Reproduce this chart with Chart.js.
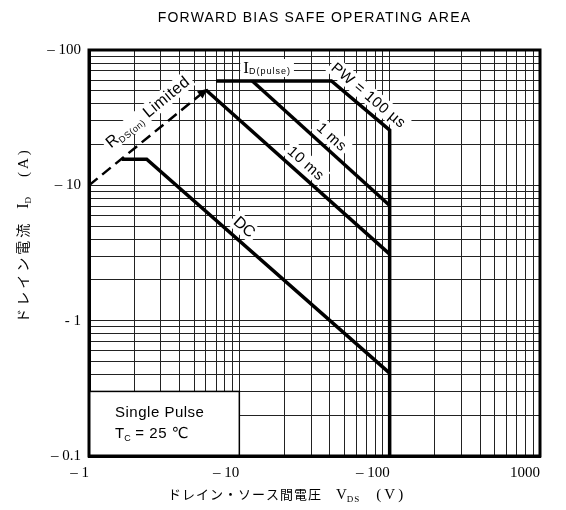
<!DOCTYPE html>
<html>
<head>
<meta charset="utf-8">
<title>Forward Bias Safe Operating Area</title>
<script src="https://cdn.jsdelivr.net/npm/chart.js@4/dist/chart.umd.min.js"></script>
<style>
  body { margin: 0; background: #fff; }
  #wrap { width: 566px; height: 510px; }
</style>
</head>
<body>
<div id="wrap"><canvas id="soa" width="566" height="510"></canvas></div>
<script>
// grid values (log 1-2-...-9)
const xGrid = [1, 2, 3, 4, 5, 6, 7, 8, 9, 10, 20, 30, 40, 50, 60, 70, 80, 90, 100, 200, 300, 400, 500, 600, 700, 800, 900, 1000];
const yGrid = [0.1, 0.2, 0.3, 0.4, 0.5, 0.6, 0.7, 0.8, 0.9, 1, 2, 3, 4, 5, 6, 7, 8, 9, 10, 20, 30, 40, 50, 60, 70, 80, 90, 100];
const xTickText = { 1: '– 1', 10: '– 10', 100: '– 100', 1000: '1000' };
const yTickText = { 0.1: '– 0.1', 1: '- 1', 10: '– 10', 100: '– 100' };

// VDS (V) / ID (A)
const rdsV = [1, 6.0];
const rdsI = [10, 50.6];
const pw100V = [7.0, 41, 100, 100];
const pw100I = [59, 59, 25.6, 0.1];
const ms1V = [12.2, 100];
const ms1I = [59, 7.1];
const ms10V = [6.0, 100];
const ms10I = [50.6, 3.1];
const dcV = [1.65, 2.42, 100];
const dcI = [15.6, 15.6, 0.41];

const SANS = '"Liberation Sans", "DejaVu Sans", sans-serif';
const SERIF = '"Liberation Serif", "DejaVu Serif", serif';
const JP = '"Noto Sans CJK JP", sans-serif';

function pts(vs, is) {
    return vs.map((v, k) => ({ x: v, y: is[k] }));
}

function line(vs, is, extra) {
    return Object.assign({
        data: pts(vs, is),
        showLine: true,
        borderColor: '#000',
        borderWidth: 3.5,
        pointRadius: 0,
        tension: 0
    }, extra);
}

function toPx(chart, v, i) {
    return { x: chart.scales.x.getPixelForValue(v), y: chart.scales.y.getPixelForValue(i) };
}

// text made of pieces (for subscripts)
function partsWidth(ctx, parts) {
    let w = 0;
    for (const p of parts) {
        if (p.gap) { w += p.gap; continue; }
        ctx.font = p.font;
        ctx.letterSpacing = p.spacing || '0px';
        w += ctx.measureText(p.t).width;
    }
    return w;
}
function drawParts(ctx, parts, x, y) {
    let cx = x;
    for (const p of parts) {
        if (p.gap) { cx += p.gap; continue; }
        ctx.font = p.font;
        ctx.letterSpacing = p.spacing || '0px';
        ctx.fillText(p.t, cx, y + (p.dy || 0));
        cx += ctx.measureText(p.t).width;
    }
}

const notes = [
    { at: [2.46, 34.8], along: [[rdsV[0], rdsI[0]], [rdsV[1], rdsI[1]]],
      parts: [{ t: 'R', font: '16px ' + SANS }, { t: 'DS(on)', font: '9px ' + SANS, dy: 3, spacing: '0.5px' }, { t: ' Limited', font: '16px ' + SANS, spacing: '0.5px' }] },
    { at: [15.3, 73.6],
      parts: [{ t: 'I', font: '17px ' + SERIF }, { t: 'D(pulse)', font: '9px ' + SANS, dy: 1, spacing: '1px' }] },
    { at: [72.6, 46.4], along: [[pw100V[1], pw100I[1]], [pw100V[2], pw100I[2]]],
      parts: [{ t: 'PW = 100 µs', font: '15px ' + SANS, spacing: '0.5px' }] },
    { at: [41.3, 22.8], along: [[ms1V[0], ms1I[0]], [ms1V[1], ms1I[1]]],
      parts: [{ t: '1 ms', font: '15px ' + SANS, spacing: '0.5px' }] },
    { at: [27.8, 14.6], along: [[ms10V[0], ms10I[0]], [ms10V[1], ms10I[1]]],
      parts: [{ t: '10 ms', font: '15px ' + SANS, spacing: '0.5px' }] },
    { at: [10.8, 4.92], along: [[dcV[1], dcI[1]], [dcV[2], dcI[2]]],
      parts: [{ t: 'DC', font: '16px ' + SANS }] }
];

function drawNote(ctx, chart, n, pass) {
    const c = toPx(chart, n.at[0], n.at[1]);
    let ang = 0;
    if (n.along) {
        const a = toPx(chart, n.along[0][0], n.along[0][1]);
        const b = toPx(chart, n.along[1][0], n.along[1][1]);
        ang = Math.atan2(b.y - a.y, b.x - a.x);
    }
    ctx.save();
    ctx.translate(c.x, c.y);
    ctx.rotate(ang);
    const w = partsWidth(ctx, n.parts);
    if (pass === 'bg') {
        ctx.fillStyle = '#fff';
        ctx.fillRect(-w / 2 - 3, -9, w + 6, 18);
    } else {
        ctx.fillStyle = '#000';
        ctx.textBaseline = 'alphabetic';
        drawParts(ctx, n.parts, -w / 2, 5);
    }
    ctx.restore();
}

const soaDecor = {
    id: 'soaDecor',
    beforeDatasetsDraw(chart) {
        const ctx = chart.ctx;
        notes.forEach(n => drawNote(ctx, chart, n, 'bg'));
        // Single Pulse box
        const a = toPx(chart, 1, 0.3);
        const b = toPx(chart, 10, 0.1);
        ctx.save();
        ctx.fillStyle = '#fff';
        ctx.fillRect(a.x, a.y, b.x - a.x, b.y - a.y);
        ctx.strokeStyle = '#000';
        ctx.lineWidth = 1.5;
        ctx.strokeRect(a.x, a.y, b.x - a.x, b.y - a.y);
        ctx.fillStyle = '#000';
        ctx.textBaseline = 'alphabetic';
        const t1 = toPx(chart, 1.49, 0.211);
        drawParts(ctx, [{ t: 'Single Pulse', font: '15px ' + SANS, spacing: '0.5px' }], t1.x, t1.y + 5);
        const t2 = toPx(chart, 1.49, 0.148);
        drawParts(ctx, [{ t: 'T', font: '15px ' + SANS }, { t: 'C', font: '9px ' + SANS, dy: 3 },
                        { t: ' = 25 ℃', font: '15px ' + SANS, spacing: '0.5px' }], t2.x, t2.y + 5);
        ctx.restore();
    },
    afterDatasetsDraw(chart) {
        const ctx = chart.ctx;
        const area = chart.chartArea;
        notes.forEach(n => drawNote(ctx, chart, n, 'fg'));

        // arrow head at the end of the RDS(on) line
        const p0 = toPx(chart, rdsV[0], rdsI[0]);
        const p1 = toPx(chart, rdsV[1], rdsI[1]);
        const ang = Math.atan2(p1.y - p0.y, p1.x - p0.x);
        ctx.save();
        ctx.translate(p1.x, p1.y);
        ctx.rotate(ang);
        ctx.fillStyle = '#000';
        ctx.beginPath();
        ctx.moveTo(2, 0);
        ctx.lineTo(-8, -4.5);
        ctx.lineTo(-8, 4.5);
        ctx.closePath();
        ctx.fill();
        ctx.restore();

        // frame
        ctx.save();
        ctx.strokeStyle = '#000';
        ctx.lineWidth = 3;
        ctx.strokeRect(area.left, area.top, area.right - area.left, area.bottom - area.top);

        // title
        ctx.fillStyle = '#000';
        ctx.textAlign = 'left';
        ctx.textBaseline = 'middle';
        const title = [{ t: 'FORWARD BIAS SAFE OPERATING AREA', font: '14px ' + SANS, spacing: '1.2px' }];
        const tw = partsWidth(ctx, title);
        drawParts(ctx, title, (area.left + area.right) / 2 - tw / 2, 18);

        // x axis title
        ctx.textBaseline = 'alphabetic';
        const xt = [
            { t: 'ドレイン・ソース間電圧', font: '13px ' + JP, spacing: '1px' },
            { gap: 14 },
            { t: 'V', font: '15px ' + SERIF },
            { t: 'DS', font: '9px ' + SERIF, dy: 3, spacing: '1px' },
            { gap: 16 },
            { t: '(V)', font: '15px ' + SERIF, spacing: '3px' }
        ];
        drawParts(ctx, xt, area.left + 79, 499);

        // y axis title (reads bottom to top)
        const yt = [
            { t: 'ドレイン電流', font: '14px ' + JP, spacing: '3px' },
            { gap: 12 },
            { t: 'I', font: '16px ' + SERIF },
            { t: 'D', font: '9px ' + SERIF, dy: 3 },
            { gap: 20 },
            { t: '(A)', font: '15px ' + SERIF, spacing: '3px' }
        ];
        const yw = partsWidth(ctx, yt);
        ctx.translate(28, 235);
        ctx.rotate(-Math.PI / 2);
        drawParts(ctx, yt, -yw / 2, 0);
        ctx.restore();
    }
};

new Chart(document.getElementById('soa'), {
    type: 'scatter',
    data: {
        datasets: [
            line(rdsV, rdsI, { borderWidth: 2.5, borderDash: [11, 6] }),
            line(pw100V, pw100I, {}),
            line(ms1V, ms1I, {}),
            line(ms10V, ms10I, {}),
            line(dcV, dcI, {})
        ]
    },
    options: {
        responsive: false,
        animation: false,
        layout: { padding: { top: 50, right: 26, left: 0, bottom: 0 } },
        plugins: {
            legend: { display: false },
            tooltip: { enabled: false },
            title: { display: false }
        },
        scales: {
            x: {
                type: 'logarithmic',
                min: 1,
                max: 1000,
                afterBuildTicks: s => { s.ticks = xGrid.map(v => ({ value: v })); },
                afterFit: s => { s.height = 54; },
                ticks: {
                    autoSkip: false,
                    maxRotation: 0,
                    minRotation: 0,
                    align: 'end',
                    padding: 8,
                    color: '#000',
                    font: { family: SERIF, size: 15 },
                    callback: v => xTickText[v] || ''
                },
                grid: { color: '#222', lineWidth: 1, drawTicks: false },
                border: { color: '#000', width: 3 }
            },
            y: {
                type: 'logarithmic',
                min: 0.1,
                max: 100,
                afterBuildTicks: s => { s.ticks = yGrid.map(v => ({ value: v })); },
                afterFit: s => { s.width = 89; },
                ticks: {
                    autoSkip: false,
                    padding: 8,
                    color: '#000',
                    font: { family: SERIF, size: 15 },
                    callback: v => yTickText[v] || ''
                },
                grid: { color: '#222', lineWidth: 1, drawTicks: false },
                border: { color: '#000', width: 3 }
            }
        }
    },
    plugins: [soaDecor]
});
</script>
</body>
</html>
